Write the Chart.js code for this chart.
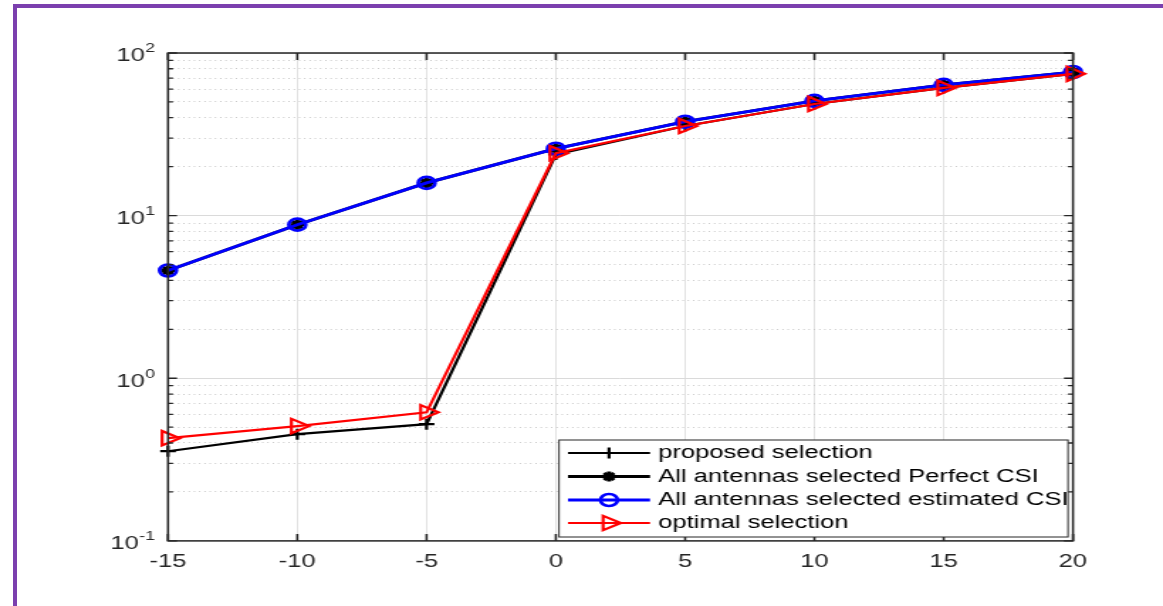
<!DOCTYPE html>
<html>
<head>
<meta charset="utf-8">
<script src="https://cdn.jsdelivr.net/npm/chart.js@4.4.1/dist/chart.umd.min.js"></script>
<style>
  html, body { margin: 0; padding: 0; background: #fff; width: 1163px; height: 606px; overflow: hidden; }
  .frame { position: absolute; left: 13px; top: 4px; width: 1300px; height: 800px;
           border-left: 4px solid #7b3fae; border-top: 4px solid #7b3fae; }
  .wrap { position: absolute; left: 0; top: 0; transform-origin: 0 0; }
</style>
</head>
<body>
<div class="frame"></div>
<div class="wrap" id="wrap"><canvas id="myChart"></canvas></div>
<script>
// the original picture is stretched sideways, so the chart is drawn narrow then widened
const SX = 1.42;

// ---- data ----
const snr = [-15, -10, -5, 0, 5, 10, 15, 20];
const proposedSel = [0.356, 0.453, 0.522, 23.8, 35.6, 48.6, 61, 74.5];
const perfectCsi = [4.6, 8.8, 15.9, 25.8, 37.8, 50.8, 63.7, 76.4];
const estimatedCsi = [4.6, 8.8, 15.9, 25.8, 37.8, 50.8, 63.7, 76.4];
const optimalSel = [0.428, 0.508, 0.618, 24.2, 35.6, 48.6, 61, 74.5];
const xTicks = [-15, -10, -5, 0, 5, 10, 15, 20];
const yDecades = [-1, 0, 1, 2];
const legendLabels = [
  'proposed selection',
  'All antennas selected Perfect CSI',
  'All antennas selected estimated CSI',
  'optimal selection'
];

// grid values for the log axis (1..9 in each decade)
const yGridValues = [];
yDecades.slice(0, -1).forEach(d => {
  for (let m = 1; m <= 9; m++) yGridValues.push(m * Math.pow(10, d));
});
yGridValues.push(Math.pow(10, yDecades[yDecades.length - 1]));

const isDecade = (v) => Math.abs(Math.log10(v) - Math.round(Math.log10(v))) < 1e-9;
const toPts = (arr) => arr.map((v, i) => ({ x: snr[i], y: v }));

const FONT = '"Liberation Sans", Arial, sans-serif';
const W = Math.round(1163 / SX);
const canvas = document.getElementById('myChart');
canvas.width = W;
canvas.height = 606;
document.getElementById('wrap').style.transform = 'scaleX(' + (1163 / W) + ')';

// box, inward ticks, y labels with exponent, legend
const axesBox = {
  id: 'axesBox',
  afterDraw(chart) {
    const { ctx, chartArea: a, scales: { x, y } } = chart;
    ctx.save();

    ctx.strokeStyle = '#262626';
    ctx.lineWidth = 1.5;
    ctx.strokeRect(a.left, a.top, a.right - a.left, a.bottom - a.top);

    ctx.lineWidth = 1.3;
    ctx.beginPath();
    yGridValues.forEach(v => {
      const py = y.getPixelForValue(v);
      const len = (isDecade(v) ? 9 : 5) / SX;
      ctx.moveTo(a.left, py); ctx.lineTo(a.left + len, py);
      ctx.moveTo(a.right, py); ctx.lineTo(a.right - len, py);
    });
    ctx.stroke();
    ctx.lineWidth = 1.6;
    ctx.beginPath();
    xTicks.forEach(v => {
      const px = x.getPixelForValue(v);
      ctx.moveTo(px, a.bottom); ctx.lineTo(px, a.bottom - 7);
      ctx.moveTo(px, a.top); ctx.lineTo(px, a.top + 7);
    });
    ctx.stroke();

    // y labels 10^n
    const rightEdge = 155 / SX;
    ctx.fillStyle = '#262626';
    ctx.textBaseline = 'middle';
    ctx.textAlign = 'right';
    yDecades.forEach(d => {
      const py = y.getPixelForValue(Math.pow(10, d));
      const sup = String(d);
      ctx.font = '12.5px ' + FONT;
      const supW = ctx.measureText(sup).width;
      ctx.fillText(sup, rightEdge, py - 4);
      ctx.font = '18px ' + FONT;
      ctx.fillText('10', rightEdge - supW - 0.3, py + 3.5);
    });

    // legend
    const bl = 559 / SX, bt = 440, br = 1068 / SX, bb = 537;
    ctx.fillStyle = '#fff';
    ctx.fillRect(bl, bt, br - bl, bb - bt);
    ctx.strokeStyle = '#262626';
    ctx.lineWidth = 1;
    ctx.strokeRect(bl, bt, br - bl, bb - bt);

    const rows = [453, 476.5, 500, 523];
    chart.data.datasets.forEach((ds, i) => {
      const ry = rows[i];
      ctx.strokeStyle = ds.borderColor;
      ctx.lineWidth = ds.borderWidth;
      ctx.beginPath();
      ctx.moveTo(568 / SX, ry);
      ctx.lineTo(650 / SX, ry);
      ctx.stroke();
      ctx.fillStyle = 'rgba(0,0,0,0)';
      ctx.lineWidth = ds.pointBorderWidth;
      Chart.helpers.drawPoint(ctx, {
        pointStyle: ds.pointStyle,
        radius: ds.pointRadius,
        rotation: ds.pointRotation || 0,
        borderWidth: ds.pointBorderWidth
      }, 609 / SX, ry);
      ctx.fillStyle = '#000';
      ctx.font = '18px ' + FONT;
      ctx.textAlign = 'left';
      ctx.fillText(legendLabels[i], 658 / SX, ry + 0.5);
    });

    ctx.restore();
  }
};

new Chart(canvas, {
  type: 'line',
  data: {
    datasets: [
      {
        label: legendLabels[0], data: toPts(proposedSel),
        borderColor: '#000000', borderWidth: 2.2,
        pointStyle: 'cross', pointRadius: 5.5, pointBorderWidth: 2.2,
        pointBorderColor: '#000000', pointBackgroundColor: 'rgba(0,0,0,0)',
        order: 4
      },
      {
        label: legendLabels[1], data: toPts(perfectCsi),
        borderColor: '#000000', borderWidth: 2.8,
        pointStyle: 'star', pointRadius: 5, pointBorderWidth: 3,
        pointBorderColor: '#000000', pointBackgroundColor: 'rgba(0,0,0,0)',
        order: 3
      },
      {
        label: legendLabels[2], data: toPts(estimatedCsi),
        borderColor: '#0000ff', borderWidth: 2.8,
        pointStyle: 'circle', pointRadius: 6, pointBorderWidth: 2.6,
        pointBorderColor: '#0000ff', pointBackgroundColor: 'rgba(0,0,0,0)',
        order: 2
      },
      {
        label: legendLabels[3], data: toPts(optimalSel),
        borderColor: '#ff0000', borderWidth: 2.2,
        pointStyle: 'triangle', pointRotation: 90, pointRadius: 8.3, pointBorderWidth: 2.2,
        pointBorderColor: '#ff0000', pointBackgroundColor: 'rgba(0,0,0,0)',
        order: 1
      }
    ]
  },
  options: {
    responsive: false,
    animation: false,
    devicePixelRatio: 1,
    datasets: { line: { tension: 0, fill: false, clip: false } },
    layout: { padding: { left: 168 / SX, right: 90 / SX, top: 53, bottom: 23.5 } },
    plugins: { legend: { display: false }, tooltip: { enabled: false } },
    scales: {
      x: {
        type: 'linear', min: -15, max: 20,
        afterBuildTicks: (s) => { s.ticks = xTicks.map(v => ({ value: v })); },
        ticks: { font: { family: FONT, size: 18 }, color: '#262626', padding: 10, maxRotation: 0, autoSkip: false },
        grid: { color: '#e2e2e2', lineWidth: 1, drawTicks: false },
        border: { display: false }
      },
      y: {
        type: 'logarithmic', min: 0.1, max: 100,
        afterBuildTicks: (s) => { s.ticks = yGridValues.map(v => ({ value: v })); },
        ticks: { display: false },
        grid: {
          drawTicks: false, lineWidth: 1,
          color: (c) => (c.tick && isDecade(c.tick.value)) ? '#dadada' : '#c4c4c4'
        },
        border: {
          display: false,
          dash: (c) => (c.tick && isDecade(c.tick.value)) ? [] : [0.9, 2.8]
        }
      }
    }
  },
  plugins: [axesBox]
});
</script>
</body>
</html>
